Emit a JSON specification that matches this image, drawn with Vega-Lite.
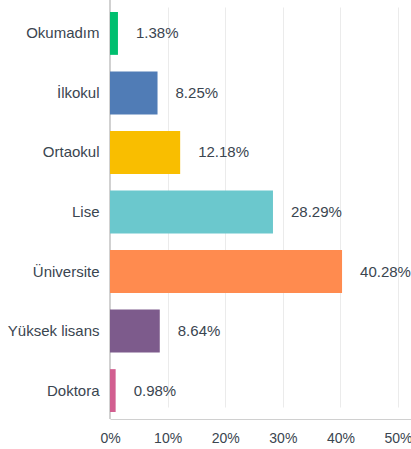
{
  "$schema": "https://vega.github.io/schema/vega-lite/v6.json",
  "width": 301,
  "height": 419,
  "autosize": {"type": "none"},
  "padding": {"left": 110, "top": 0, "right": 0, "bottom": 30},
  "background": "white",
  "data": {
    "values": [
      {"kategori": "Okumadım", "oran": 0.0138, "etiket": "1.38%", "renk": "#00bf6f"},
      {"kategori": "İlkokul", "oran": 0.0825, "etiket": "8.25%", "renk": "#507cb6"},
      {"kategori": "Ortaokul", "oran": 0.1218, "etiket": "12.18%", "renk": "#f9be00"},
      {"kategori": "Lise", "oran": 0.2829, "etiket": "28.29%", "renk": "#6bc8cd"},
      {"kategori": "Üniversite", "oran": 0.4028, "etiket": "40.28%", "renk": "#ff8b4f"},
      {"kategori": "Yüksek lisans", "oran": 0.0864, "etiket": "8.64%", "renk": "#7d5b8c"},
      {"kategori": "Doktora", "oran": 0.0098, "etiket": "0.98%", "renk": "#d25f90"}
    ]
  },
  "encoding": {
    "y": {
      "field": "kategori",
      "type": "nominal",
      "sort": null,
      "title": null,
      "scale": {"range": [12, 412], "paddingInner": 0.28, "paddingOuter": 0},
      "axis": {
        "ticks": false,
        "domain": false,
        "labelFont": "Liberation Sans",
        "labelFontSize": 15,
        "labelColor": "#3a4550",
        "labelPadding": 11
      }
    },
    "x": {
      "field": "oran",
      "type": "quantitative",
      "title": null,
      "scale": {"domain": [0, 0.5225], "nice": false},
      "axis": {
        "values": [0, 0.1, 0.2, 0.3, 0.4, 0.5],
        "format": ".0%",
        "ticks": false,
        "domainColor": "#d0d0d0",
        "gridColor": "#ebebeb",
        "labelFont": "Liberation Sans",
        "labelFontSize": 14,
        "labelColor": "#3a4550",
        "labelPadding": 12,
        "labelFlush": false
      }
    }
  },
  "layer": [
    {
      "mark": {"type": "rule", "color": "#d0d0d0", "strokeWidth": 1.5},
      "encoding": {"x": {"datum": 0}, "y": null}
    },
    {
      "mark": {"type": "bar"},
      "encoding": {"color": {"field": "renk", "type": "nominal", "scale": null}}
    },
    {
      "mark": {"type": "text", "align": "left", "dx": 18, "font": "Liberation Sans", "fontSize": 15, "color": "#3a4550"},
      "encoding": {"text": {"field": "etiket"}}
    }
  ],
  "config": {"view": {"stroke": null}}
}
